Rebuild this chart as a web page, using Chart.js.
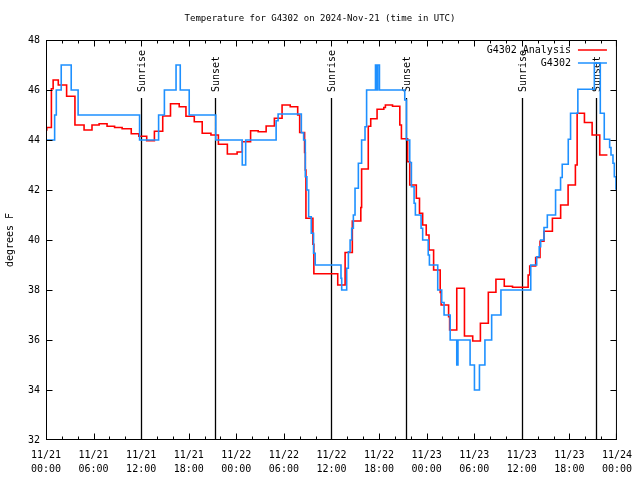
<!DOCTYPE html>
<html>
<head>
<meta charset="utf-8">
<script src="https://cdn.jsdelivr.net/npm/chart.js@4.4.1/dist/chart.umd.min.js"></script>
<style>
  html, body { margin: 0; padding: 0; background: #fff; }
</style>
</head>
<body>
<canvas id="chart" width="640" height="480"></canvas>
<script>
// hours since 11/21 00:00 UTC, temperatures in degrees F
const analysisHours = [0, 0.1, 0.68, 0.9, 1.55, 2.6, 3.65, 4.8, 5.8, 6.7, 7.7, 8.65, 9.6, 10.75, 11.7, 12.7,
  13.67, 14.72, 15.7, 16.8, 17.65, 18.7, 19.7, 20.8, 21.74, 22.87, 24.1, 24.75, 25.8, 26.76, 27.76, 28.8,
  29.77, 30.8, 31.74, 31.99, 32.61, 32.7, 32.78, 33.66, 33.78, 36.79, 37.72, 38.63, 39.7, 39.8, 40.64, 40.95,
  41.75, 42.6, 42.8, 43.7, 44.62, 44.82, 45.6, 45.87, 46.7, 47.1, 47.5, 47.95, 48.3, 48.88, 49.71, 49.83,
  50.77, 50.9, 51.8, 52.77, 53.81, 54.78, 55.78, 56.74, 57.79, 58.83, 60.8, 61.0, 61.75, 62.3, 62.8, 63.86,
  64.9, 65.84, 66.76, 66.98, 67.9, 68.87, 69.83, 70.8];
const analysisTemps = [44.4, 44.5, 46.05, 46.4, 46.2, 45.75, 44.6, 44.4, 44.6, 44.65, 44.55, 44.5, 44.45, 44.25, 44.15, 43.97,
  44.35, 44.96, 45.45, 45.33, 44.95, 44.73, 44.27, 44.2, 43.83, 43.44, 43.52, 43.93, 44.37, 44.33, 44.56, 44.87,
  45.4, 45.33, 45.0, 44.3, 43.5, 42.8, 40.87, 39.83, 38.65, 38.2, 39.5, 40.76, 41.3, 42.84, 44.55, 44.85,
  45.23, 45.3, 45.4, 45.35, 44.6, 44.05, 43.13, 42.2, 41.67, 41.07, 40.6, 40.2, 39.6, 38.8, 37.9, 37.4,
  36.93, 36.4, 38.07, 36.16, 35.96, 36.67, 37.91, 38.43, 38.15, 38.11, 38.6, 38.96, 39.3, 39.95, 40.35, 40.87,
  41.4, 42.2, 43.0, 45.07, 44.7, 44.2, 43.4, 43.4];

const obsHours = [0, 1.09, 1.3, 1.92, 3.18, 4.05, 11.8, 14.2, 14.93, 16.4, 16.93, 18.06, 21.41, 24.75, 25.18, 29.02,
  29.27, 32.2, 32.49, 32.7, 32.9, 33.12, 33.45, 33.74, 33.95, 37.2, 37.29, 37.92, 38.13, 38.35, 38.55, 38.76,
  38.97, 39.39, 39.8, 40.23, 40.43, 41.55, 41.75, 41.83, 42.05, 45.24, 45.45, 45.87, 46.08, 46.42, 46.58, 47.3,
  47.5, 48.2, 48.35, 49.4, 49.9, 50.2, 50.97, 51.8, 51.95, 53.48, 54.03, 54.66, 55.35, 56.2, 57.37, 61.13,
  61.88, 62.2, 62.38, 62.8, 63.22, 64.26, 64.89, 65.1, 65.86, 66.15, 67.07, 69.15, 69.9, 70.4, 71.08, 71.25,
  71.5, 71.67, 71.88, 72];
const obsTemps = [44, 45, 46, 47, 46, 45, 44, 45, 46, 47, 46, 45, 44, 43, 44, 44.77,
  45.04, 44.29, 44, 42.53, 42, 40.93, 40.27, 39.47, 39, 38.47, 38, 38.87, 39.53, 40, 40.47, 41,
  42.07, 43.07, 44, 44.53, 46, 47, 46, 47, 46, 45.6, 44, 43.1, 42.13, 41.47, 41, 40.47,
  40, 39.4, 39, 38, 37.5, 37, 36, 35, 36, 35, 34, 35, 36, 37, 38, 39,
  39.33, 39.73, 40, 40.5, 41, 42, 42.5, 43.03, 44.03, 45.07, 46.03, 47.07, 45.07, 44.03, 43.7, 43.4,
  43.07, 42.53, 42.04, 42.04];

const sunriseHours = [11.95, 36.0, 60.05];
const sunsetHours = [21.33, 45.35, 69.33];

const tickDates = ['11/21', '11/21', '11/21', '11/21', '11/22', '11/22', '11/22', '11/22', '11/23', '11/23', '11/23', '11/23', '11/24'];
const tickTimes = ['00:00', '06:00', '12:00', '18:00', '00:00', '06:00', '12:00', '18:00', '00:00', '06:00', '12:00', '18:00', '00:00'];

const chartTitle = 'Temperature for G4302 on 2024-Nov-21 (time in UTC)';

const MONO = '"DejaVu Sans Mono", monospace';

function toPoints(xs, ys) {
    return xs.map((h, i) => ({ x: h, y: ys[i] }));
}

// sunrise/sunset markers, drawn under the data
const sunMarks = {
    id: 'sunMarks',
    beforeDatasetsDraw(chart) {
        const { ctx, chartArea: a, scales: { x } } = chart;
        const top = a.bottom - (a.bottom - a.top) * 0.855;
        ctx.save();
        ctx.strokeStyle = '#000';
        ctx.fillStyle = '#000';
        ctx.lineWidth = 1.3;
        ctx.font = '10px ' + MONO;
        const mark = (h, text) => {
            const px = Math.round(x.getPixelForValue(h)) + 0.5;
            ctx.beginPath();
            ctx.moveTo(px, a.bottom);
            ctx.lineTo(px, top);
            ctx.stroke();
            ctx.save();
            ctx.translate(px + 1, top - 6);
            ctx.rotate(-Math.PI / 2);
            ctx.textAlign = 'left';
            ctx.textBaseline = 'middle';
            ctx.fillText(text, 0, 0);
            ctx.restore();
        };
        sunriseHours.forEach(h => mark(h, 'Sunrise'));
        sunsetHours.forEach(h => mark(h, 'Sunset'));
        ctx.restore();
    }
};

// gnuplot style box with inward tics, the key in the top right corner and the page title
const frameAndKey = {
    id: 'frameAndKey',
    afterDatasetsDraw(chart) {
        const { ctx, chartArea: a, scales: { x, y } } = chart;
        const left = a.left + 0.5, right = a.right - 0.5;
        const top = a.top + 0.5, bottom = a.bottom - 0.5;
        ctx.save();
        ctx.strokeStyle = '#000';
        ctx.lineWidth = 1;
        ctx.strokeRect(left, top, right - left, bottom - top);

        ctx.beginPath();
        for (let h = 0; h <= 72; h += 2) {
            const px = Math.min(Math.max(Math.round(x.getPixelForValue(h)) + 0.5, left), right);
            const len = h % 6 === 0 ? 6 : 3;
            ctx.moveTo(px, bottom);
            ctx.lineTo(px, bottom - len);
            ctx.moveTo(px, top);
            ctx.lineTo(px, top + len);
        }
        for (let v = 32; v <= 48; v += 2) {
            const py = Math.min(Math.max(Math.round(y.getPixelForValue(v)) + 0.5, top), bottom);
            ctx.moveTo(left, py);
            ctx.lineTo(left + 6, py);
            ctx.moveTo(right, py);
            ctx.lineTo(right - 6, py);
        }
        ctx.stroke();

        ctx.font = '10px ' + MONO;
        ctx.textAlign = 'right';
        ctx.textBaseline = 'middle';
        chart.data.datasets.forEach((ds, i) => {
            const ky = a.top + 10 + i * 13;
            ctx.fillStyle = '#000';
            ctx.fillText(ds.label, a.right - 46, ky);
            ctx.strokeStyle = ds.borderColor;
            ctx.lineWidth = 1.5;
            ctx.beginPath();
            ctx.moveTo(a.right - 39, ky);
            ctx.lineTo(a.right - 10, ky);
            ctx.stroke();
        });

        // title centred on the whole page, like gnuplot does
        ctx.font = '9px ' + MONO;
        ctx.textAlign = 'center';
        ctx.fillStyle = '#000';
        ctx.fillText(chartTitle, chart.width / 2, 19);
        ctx.restore();
    }
};

Chart.defaults.font.family = MONO;
Chart.defaults.color = '#000';

new Chart(document.getElementById('chart'), {
    type: 'line',
    data: {
        datasets: [
            {
                label: 'G4302 Analysis',
                data: toPoints(analysisHours, analysisTemps),
                borderColor: '#ff0000',
                borderWidth: 1.6,
                stepped: 'before',
                pointRadius: 0,
                order: 2
            },
            {
                label: 'G4302',
                data: toPoints(obsHours, obsTemps),
                borderColor: '#1e90ff',
                borderWidth: 1.6,
                stepped: 'before',
                pointRadius: 0,
                order: 1
            }
        ]
    },
    options: {
        responsive: false,
        animation: false,
        layout: { padding: { left: 0, right: 20, top: 40, bottom: 0 } },
        plugins: {
            legend: { display: false },
            tooltip: { enabled: false },
            title: { display: false }
        },
        scales: {
            x: {
                type: 'linear',
                min: 0,
                max: 72,
                grid: { display: false, drawTicks: false },
                border: { display: false },
                ticks: {
                    stepSize: 6,
                    autoSkip: false,
                    maxRotation: 0,
                    minRotation: 0,
                    padding: 8,
                    font: { size: 10, family: MONO, lineHeight: 1.4 },
                    callback: (v) => [tickDates[v / 6], tickTimes[v / 6]]
                },
                afterFit: (s) => { s.height = 40; }
            },
            y: {
                min: 32,
                max: 48,
                grid: { display: false, drawTicks: false },
                border: { display: false },
                ticks: { stepSize: 2, padding: 6, font: { size: 10, family: MONO } },
                title: {
                    display: true,
                    text: 'degrees F',
                    font: { size: 10, family: MONO },
                    padding: { top: 4, bottom: 0 }
                },
                afterFit: (s) => { s.width = 46; }
            }
        }
    },
    plugins: [sunMarks, frameAndKey]
});
</script>
</body>
</html>
